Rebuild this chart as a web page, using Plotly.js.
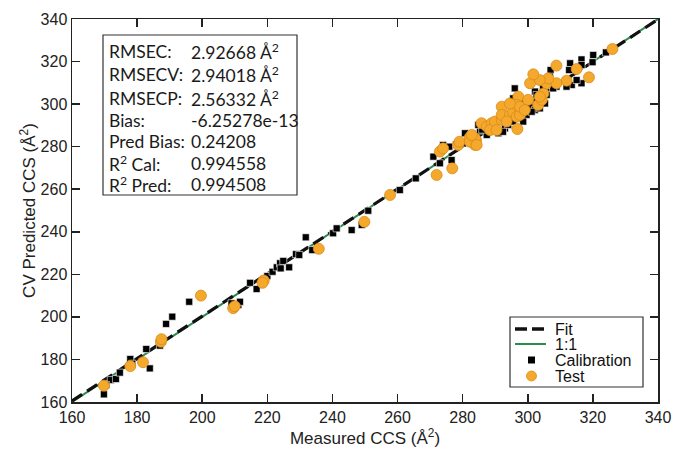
<!DOCTYPE html>
<html><head><meta charset="utf-8">
<script src="https://cdn.plot.ly/plotly-3.0.1.min.js"></script>
<style>html,body{margin:0;padding:0;background:#fff}#chart{width:675px;height:457px}</style>
</head><body><div id="chart"></div>
<script>
// ---- data ----
const calX = [169.8,171.9,173.5,174.7,177.9,183.9,182.8,187.0,188.9,190.8,196.0,211.1,211.6,209.0,214.7,216.7,220.0,221.6,222.9,223.9,224.9,226.7,224.1,228.8,229.8,231.8,233.8,240.2,241.3,245.9,249.0,251.0,260.7,265.6,271.0,273.0,276.6,274.0,275.9,280.7,285.3,284.8,287.4,291.0,293.0,295.0,296.0,294.0,299.1,300.7,302.2,303.7,304.8,302.2,324.0,320.1,319.9,316.5,316.5,313.0,312.7,307.0,306.8,313.5,316.5,315.0,311.9,308.8,304.7,305.8,302.7,307.8,295.5,298.6,302.7,305.3,297.6,299.6,301.2,295.5,292.4,298.6,278.0,282.0,286.0,289.0,283.0,170.5,178.5];
const calY = [163.6,170.3,170.8,173.8,180.2,175.8,184.9,186.5,196.7,200.1,207.1,205.6,207.1,206.4,216.0,213.1,219.2,221.2,223.3,225.2,226.3,223.3,222.8,229.5,229.1,237.4,231.4,239.3,241.6,240.8,243.2,249.9,259.6,265.1,275.3,272.2,273.7,280.8,280.0,286.3,287.6,290.2,285.5,286.3,288.6,299.6,307.4,290.2,295.6,298.8,297.2,298.0,303.5,305.9,324.3,323.1,319.7,321.0,318.4,319.2,316.0,316.0,312.9,309.0,309.8,311.3,308.2,308.2,307.4,304.3,304.3,307.4,302.7,301.1,301.1,300.3,296.4,294.9,296.4,291.8,287.0,291.8,281.0,284.0,288.0,289.0,286.0,168.0,178.0];
const testX = [169.8,177.9,181.8,187.3,187.5,199.6,209.5,210.0,218.9,218.5,235.8,249.8,257.7,272.0,276.8,273.0,274.0,278.6,279.0,282.2,283.8,284.1,282.2,283.8,284.3,282.8,285.8,287.4,288.9,288.4,289.9,290.4,292.0,292.0,292.0,294.5,295.5,296.6,297.6,296.8,297.1,296.6,297.6,300.1,300.7,299.1,303.2,304.3,304.8,305.8,326.0,308.8,315.0,318.8,311.9,308.8,306.3,303.7,301.7,303.7,294.5,293.5];
const testY = [167.7,176.9,178.7,188.3,189.5,210.0,204.1,205.0,217.1,216.0,232.0,244.7,257.3,266.7,269.8,277.7,279.2,280.8,282.3,284.4,280.8,283.0,282.3,283.9,280.8,285.5,291.0,289.5,291.0,287.8,291.8,287.8,292.6,298.8,294.9,294.9,296.4,294.1,294.9,288.3,303.5,299.6,298.8,302.0,309.8,297.2,299.6,302.0,305.0,309.8,325.9,318.1,316.5,312.6,311.0,309.8,312.1,311.3,314.0,303.5,300.3,291.8];
const fitX = [160, 340];
const fitY = [160.5, 339.8];
const oneX = [160, 340];
const oneY = [160, 340];
const tickVals = [160,180,200,220,240,260,280,300,320,340];
const statLabels = ["RMSEC:","RMSECV:","RMSECP:","Bias:","Pred Bias:","R<sup>2</sup> Cal:","R<sup>2</sup> Pred:"];
const statValues = ["2.92668 Å<sup>2</sup>","2.94018 Å<sup>2</sup>","2.56332 Å<sup>2</sup>","-6.25278e-13","0.24208","0.994558","0.994508"];
const legendNames = ["Fit","1:1","Calibration","Test"];

// ---- styling / layout ----
const W = 675, H = 457, L = 72, R = 17, T = 19, B = 55;
const px = x => (x - L) / (W - L - R);
const py = y => (H - B - y) / (H - T - B);
const ORANGE = '#F4A92C';

const traces = [
  {x: oneX, y: oneY, mode: 'lines', name: legendNames[1], line: {color: '#2E8B4E', width: 2}, showlegend: false, hoverinfo: 'skip'},
  {x: fitX, y: fitY, mode: 'lines', name: legendNames[0], line: {color: '#111', width: 3.2, dash: '12px,6px'}, showlegend: false, hoverinfo: 'skip'},
  {x: calX, y: calY, mode: 'markers', name: legendNames[2], marker: {symbol: 'square', size: 7, color: '#000', line: {color: '#fff', width: 0.6}}, showlegend: false},
  {x: testX, y: testY, mode: 'markers', name: legendNames[3], marker: {symbol: 'circle', size: 11, color: ORANGE, line: {color: '#D98A1A', width: 0.8}}, showlegend: false}
];

const statY = [51.7, 75, 98.3, 120, 141.7, 163.3, 185];
const annotations = [];
const sfont = {family: 'Lato, Noto Sans, sans-serif', size: 17.5, color: '#1a1a1a'};
statLabels.forEach((t, i) => {
  annotations.push({xref: 'paper', yref: 'paper', x: px(107), y: py(statY[i]), xanchor: 'left', yanchor: 'middle', text: t, showarrow: false, font: sfont});
  annotations.push({xref: 'paper', yref: 'paper', x: px(189), y: py(statY[i]), xanchor: 'left', yanchor: 'middle', text: statValues[i], showarrow: false, font: sfont});
});
const legY = [329, 344, 360, 376];
const lfont = {family: 'Liberation Sans, Arial, sans-serif', size: 16, color: '#111'};
legendNames.forEach((t, i) => {
  annotations.push({xref: 'paper', yref: 'paper', x: px(553), y: py(legY[i]), xanchor: 'left', yanchor: 'middle', text: t, showarrow: false, font: lfont});
});

const shapes = [
  {type: 'rect', xref: 'paper', yref: 'paper', x0: px(103), x1: px(297), y0: py(195), y1: py(35), line: {color: '#333', width: 1.2}, fillcolor: '#fff', layer: 'above'},
  {type: 'rect', xref: 'paper', yref: 'paper', x0: px(510), x1: px(643), y0: py(387), y1: py(317), line: {color: '#333', width: 1.2}, fillcolor: '#fff', layer: 'above'},
  {type: 'line', xref: 'paper', yref: 'paper', x0: px(515), x1: px(546), y0: py(legY[0]), y1: py(legY[0]), line: {color: '#111', width: 3.5, dash: '12px,5px'}, layer: 'above'},
  {type: 'line', xref: 'paper', yref: 'paper', x0: px(515), x1: px(546), y0: py(legY[1]), y1: py(legY[1]), line: {color: '#2E8B4E', width: 2}, layer: 'above'},
  {type: 'rect', xref: 'paper', yref: 'paper', x0: px(528), x1: px(535), y0: py(legY[2] + 3.5), y1: py(legY[2] - 3.5), line: {width: 0}, fillcolor: '#000', layer: 'above'},
  {type: 'circle', xref: 'paper', yref: 'paper', x0: px(526.5), x1: px(536.5), y0: py(legY[3] + 5), y1: py(legY[3] - 5), line: {color: '#D98A1A', width: 0.8}, fillcolor: ORANGE, layer: 'above'}
];

const axisCommon = {
  range: [160, 340], tickvals: tickVals, ticks: 'inside', ticklen: 8, tickwidth: 1.5, tickcolor: '#222',
  showline: true, linecolor: '#222', linewidth: 1.5, mirror: 'ticks', showgrid: false, zeroline: false,
  tickfont: {family: 'Liberation Sans, Arial, sans-serif', size: 16, color: '#222'}, automargin: false
};

const layout = {
  width: W, height: H, margin: {l: L, r: R, t: T, b: B},
  paper_bgcolor: '#fff', plot_bgcolor: '#fff', showlegend: false,
  xaxis: Object.assign({}, axisCommon, {title: {text: 'Measured CCS (Å<sup>2</sup>)', font: {family: 'Liberation Sans, Arial, sans-serif', size: 17, color: '#222'}, standoff: 5}}),
  yaxis: Object.assign({}, axisCommon, {title: {text: 'CV Predicted CCS (Å<sup>2</sup>)', font: {family: 'Liberation Sans, Arial, sans-serif', size: 17, color: '#222'}, standoff: 0}}),
  annotations: annotations, shapes: shapes
};

Plotly.newPlot('chart', traces, layout, {displayModeBar: false, staticPlot: true});
</script>
</body></html>
